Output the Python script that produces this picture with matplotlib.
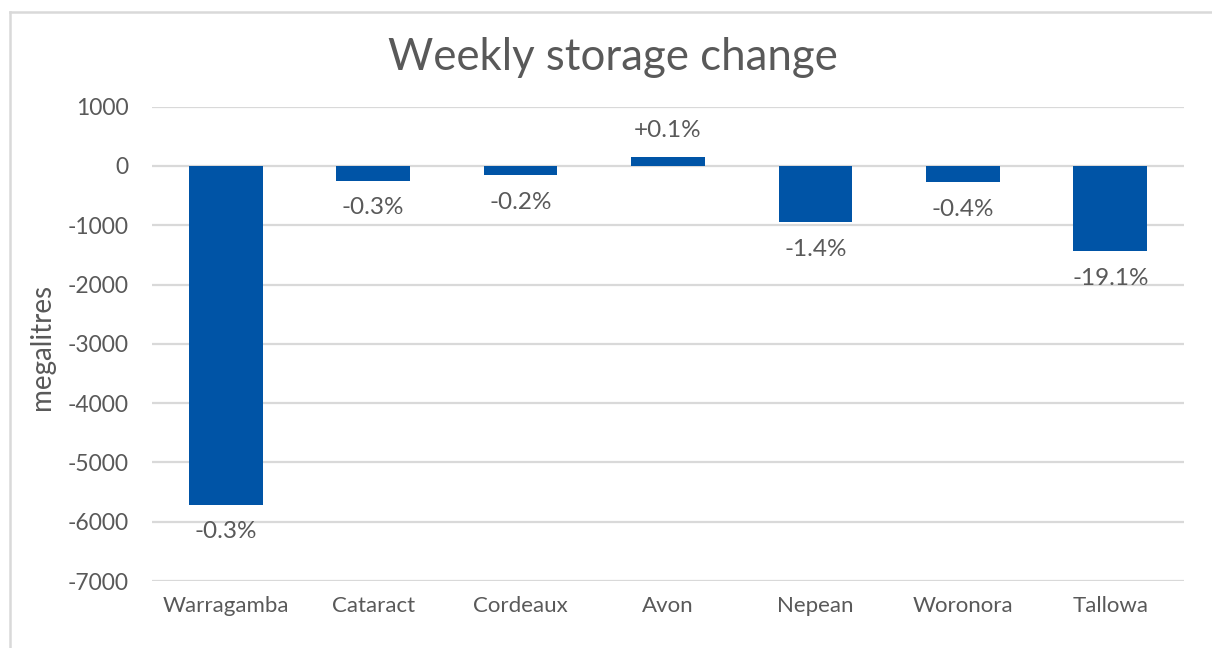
import numpy as np
import matplotlib
matplotlib.use("Agg")
from matplotlib import pyplot as plt
from matplotlib.lines import Line2D

plt.rcParams['font.family'] = ['Lato', 'DejaVu Sans']

# data
dams = ['Warragamba', 'Cataract', 'Cordeaux', 'Avon', 'Nepean', 'Woronora', 'Tallowa']
change_ml = [-5710, -250, -155, 150, -945, -270, -1435]
pct_labels = ['-0.3%', '-0.3%', '-0.2%', '+0.1%', '-1.4%', '-0.4%', '-19.1%']
yticks = [1000, 0, -1000, -2000, -3000, -4000, -5000, -6000, -7000]

grey = '#595959'
bar_col = '#0054a6'
grid_col = '#d9d9d9'

fig = plt.figure(figsize=(12.12, 6.48), dpi=100)
ax = fig.add_axes([152/1212, 1-581/648, (1184-152)/1212, (581-106.7)/648])

x = np.arange(len(dams))
ax.bar(x, change_ml, width=0.5, color=bar_col, zorder=3)

ax.set_xlim(-0.5, len(dams)-0.5)
ax.set_ylim(-7000, 1000)
ax.set_yticks(yticks)
ax.set_yticklabels([str(v) for v in yticks])
ax.set_xticks(x)
ax.set_xticklabels(dams)
ax.tick_params(axis='y', length=0, pad=17, labelsize=16.5, labelcolor=grey)
ax.tick_params(axis='x', length=0, pad=11, labelsize=16, labelcolor=grey)

ax.grid(axis='y', color=grid_col, linewidth=1.6, zorder=0)
for s in ax.spines.values():
    s.set_visible(False)

# data labels
for xi, v, lab in zip(x, change_ml, pct_labels):
    off = 19.5 if v > 0 else -19.5
    ax.annotate(lab, (xi, v), xytext=(0, off), textcoords='offset points',
                ha='center', va='center', fontsize=17.5, color=grey, zorder=4)

fig.text(0.506, 1-58/648, 'Weekly storage change', ha='center', va='center',
         fontsize=31.5, color=grey)
fig.text(42/1212, 1-347/648, 'megalitres', rotation=90, ha='center', va='center',
         fontsize=20, color=grey)

# chart frame
fig.add_artist(Line2D([10/1212, 1], [1-12/648, 1-12/648], color=grid_col, linewidth=1.8))
fig.add_artist(Line2D([10/1212, 10/1212], [0, 1-12/648], color=grid_col, linewidth=1.8))

fig.savefig('out.png', dpi=100, facecolor='white')
